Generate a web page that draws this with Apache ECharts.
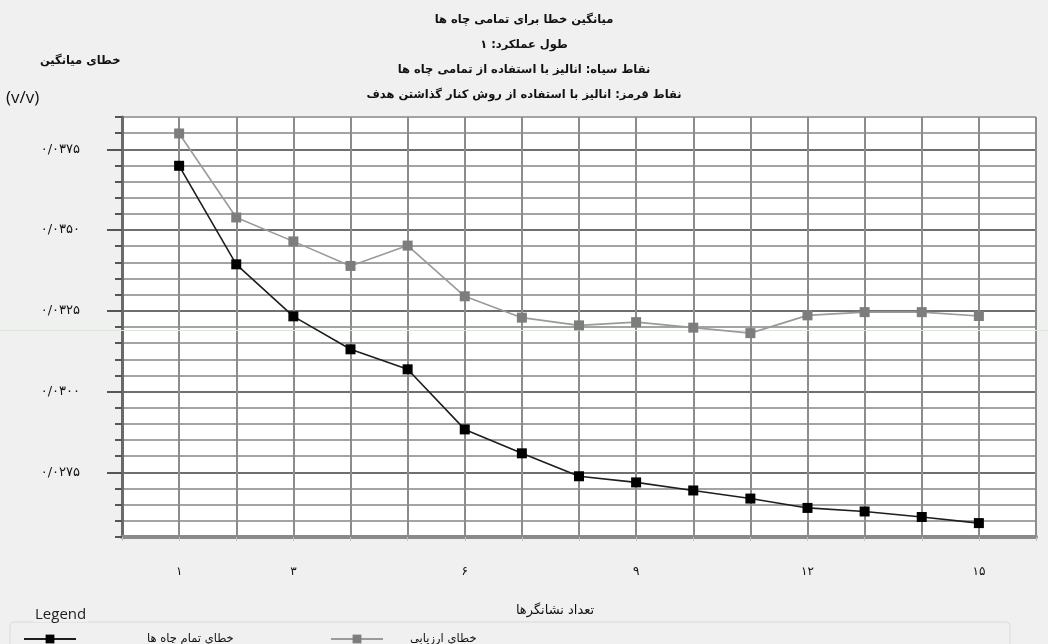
<!DOCTYPE html>
<html>
<head>
<meta charset="utf-8">
<title>میانگین خطا برای تمامی چاه ها</title>
<script src="https://cdn.jsdelivr.net/npm/echarts@6/dist/echarts.min.js"></script>
<style>
  html, body { margin: 0; padding: 0; background: #f0f0f0; }
  #chart { width: 1048px; height: 644px; }
</style>
</head>
<body>
<div id="chart"></div>
<script>
// Number of markers used in the analysis
const markerCounts = [1, 2, 3, 4, 5, 6, 7, 8, 9, 10, 11, 12, 13, 14, 15];
// Mean error (v/v), analysis using all wells
const allWellsError = [0.03699, 0.03394, 0.03233, 0.03131, 0.03069, 0.02883, 0.02809, 0.02738,
                       0.02719, 0.02694, 0.02669, 0.02640, 0.02629, 0.02612, 0.02593];
// Mean error (v/v), leave-target-out evaluation
const evaluationError = [0.03799, 0.03539, 0.03465, 0.03389, 0.03452, 0.03295, 0.03229, 0.03205,
                         0.03215, 0.03198, 0.03181, 0.03236, 0.03246, 0.03246, 0.03234];

const seriesNames = ['خطای تمام چاه ها', 'خطای ارزیابی'];

const xTickValues = [1, 3, 6, 9, 12, 15];
const xTickLabels = ['۱', '۳', '۶', '۹', '۱۲', '۱۵'];
const yTickValues = [0.0275, 0.03, 0.0325, 0.035, 0.0375];
const yTickLabels = ['۰/۰۲۷۵', '۰/۰۳۰۰', '۰/۰۳۲۵', '۰/۰۳۵۰', '۰/۰۳۷۵'];

const titleLines = [
  'میانگین خطا برای تمامی چاه ها',
  'طول عملکرد: ۱',
  'نقاط سیاه: انالیز با استفاده از تمامی چاه ها',
  'نقاط قرمز: انالیز با استفاده از روش کنار گذاشتن هدف'
];
const yAxisTitle = 'خطای میانگین';
const yAxisUnit = '(v/v)';
const xAxisTitle = 'تعداد نشانگرها';

const FONT = '"DejaVu Sans", sans-serif';

function lookup(values, labels, v) {
  for (let i = 0; i < values.length; i++) {
    if (Math.abs(values[i] - v) < 1e-7) return labels[i];
  }
  return '';
}

const chart = echarts.init(document.getElementById('chart'), null, { renderer: 'canvas' });

const minorGrid = '#a3a3a3';
const majorGrid = '#6f6f6f';

chart.setOption({
  backgroundColor: '#f0f0f0',
  animation: false,
  title: {
    text: titleLines.join('\n'),
    left: 'center',
    top: 3,
    padding: [5, 0, 5, 20],
    textStyle: {
      fontFamily: FONT, fontSize: 11.5, fontWeight: 'bold',
      color: '#111', lineHeight: 25
    }
  },
  grid: {
    left: 122, right: 12, top: 117, bottom: 107,
    show: true, backgroundColor: '#ffffff', borderWidth: 0
  },
  legend: [
    {
      left: 18, top: 628,
      data: [seriesNames[0]],
      itemWidth: 52, itemHeight: 11,
      textStyle: { fontFamily: FONT, fontSize: 11.5, color: '#111', padding: [0, 0, 0, 66] }
    },
    {
      left: 325, top: 628,
      data: [seriesNames[1]],
      itemWidth: 52, itemHeight: 11,
      textStyle: { fontFamily: FONT, fontSize: 11.5, color: '#111', padding: [0, 0, 0, 22] }
    }
  ],
  xAxis: {
    type: 'value',
    min: 0, max: 16, interval: 1,
    name: xAxisTitle,
    nameLocation: 'middle',
    nameGap: 67,
    nameTextStyle: { fontFamily: FONT, fontSize: 13, color: '#111', padding: [0, 48, 0, 0] },
    axisLine: { show: true, onZero: false, lineStyle: { color: '#8a8a8a', width: 4 } },
    axisTick: { show: true, length: 4, lineStyle: { color: '#c4c4c4', width: 1 } },
    axisLabel: {
      margin: 29,
      fontFamily: FONT, fontSize: 12, color: '#111',
      showMinLabel: true, showMaxLabel: true,
      formatter: v => lookup(xTickValues, xTickLabels, v)
    },
    splitLine: { show: true, lineStyle: { color: '#8c8c8c', width: 2 } }
  },
  yAxis: [
    {
      type: 'value',
      min: 0.0255, max: 0.0385, interval: 0.0005,
      axisLine: { show: true, lineStyle: { color: '#6a6a6a', width: 3 } },
      axisTick: { show: true, length: 7, lineStyle: { color: '#555', width: 2 } },
      axisLabel: { show: false },
      // every fifth line (the labelled values) is drawn darker
      splitLine: {
        show: true,
        lineStyle: { color: [minorGrid, minorGrid, minorGrid, minorGrid, majorGrid], width: 2 }
      }
    },
    {
      type: 'value',
      position: 'left',
      min: 0.0255, max: 0.0385,
      axisLine: { show: false },
      axisTick: {
        show: true, length: 15, customValues: yTickValues,
        lineStyle: { color: '#555', width: 2 }
      },
      axisLabel: {
        show: true, margin: 42, customValues: yTickValues,
        fontFamily: FONT, fontSize: 13, color: '#111',
        formatter: v => lookup(yTickValues, yTickLabels, v)
      },
      splitLine: { show: false }
    }
  ],
  graphic: [
    // faint horizontal guide across the figure
    {
      type: 'line', z: 1, silent: true,
      shape: { x1: 0, y1: 330.5, x2: 1048, y2: 330.5 },
      style: { stroke: '#d4ecd0', lineWidth: 1 }
    },
    {
      type: 'text', left: 40, top: 55,
      style: { text: yAxisTitle, font: 'bold 11.5px ' + FONT, fill: '#111' }
    },
    {
      type: 'text', left: 6, top: 90,
      style: { text: yAxisUnit, font: '17px "Open Sans", sans-serif', fill: '#111' }
    },
    {
      type: 'rect', z: 0, silent: true,
      shape: { x: 10, y: 622, width: 1000, height: 40, r: 4 },
      style: { fill: 'none', stroke: '#dadada', lineWidth: 1 }
    },
    {
      type: 'text', left: 33, top: 607,
      style: {
        text: 'Legend', font: '15px "Open Sans", sans-serif', fill: '#222',
        backgroundColor: '#f0f0f0', padding: [0, 2]
      }
    }
  ],
  series: [
    {
      name: seriesNames[0],
      type: 'line',
      data: markerCounts.map((m, i) => [m, allWellsError[i]]),
      symbol: 'rect', symbolSize: 10,
      itemStyle: { color: '#000000' },
      lineStyle: { color: '#1e1e1e', width: 1.6 },
      z: 4
    },
    {
      name: seriesNames[1],
      type: 'line',
      data: markerCounts.map((m, i) => [m, evaluationError[i]]),
      symbol: 'rect', symbolSize: 10,
      itemStyle: { color: '#7d7d7d' },
      lineStyle: { color: '#9a9a9a', width: 1.6 },
      z: 3
    }
  ]
});
</script>
</body>
</html>
